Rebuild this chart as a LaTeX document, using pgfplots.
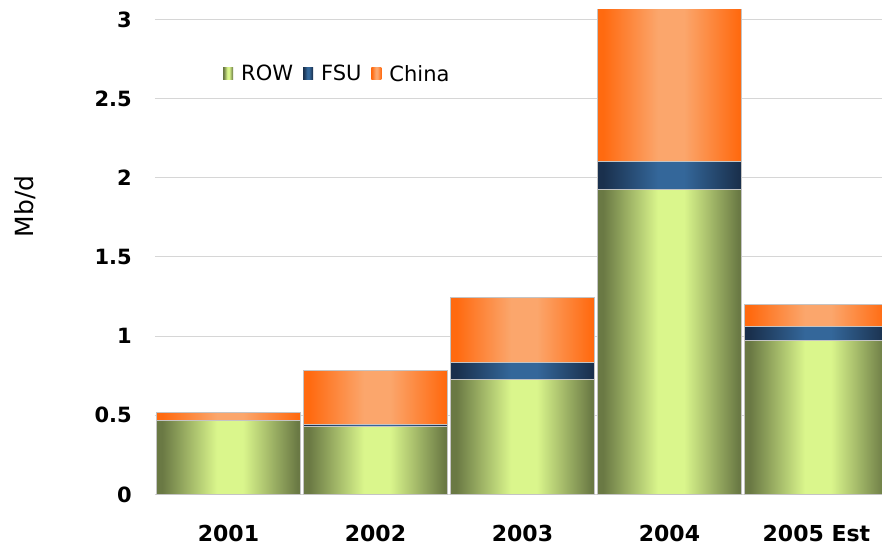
\documentclass[border=0pt]{standalone}
\usepackage{fontspec}
\setmainfont{DejaVu Sans}
\usepackage{pgfplots}
\usepackage{pgfplotstable}
\pgfplotsset{compat=1.18}

\definecolor{rowEdge}{HTML}{6A7944}
\definecolor{rowMid}{HTML}{DAF68C}
\definecolor{fsuEdge}{HTML}{1A304D}
\definecolor{fsuMid}{HTML}{34679A}
\definecolor{chnEdge}{HTML}{FF6A10}
\definecolor{chnMid}{HTML}{FBA66C}
\definecolor{gridgray}{HTML}{D6D6D6}
\definecolor{bordergray}{HTML}{C4C4C4}

% horizontal shadings with a light plateau in the middle of each bar
% (the path spans 25bp..75bp of the 100bp shading)
\pgfdeclarehorizontalshading{rowshade}{100bp}{color(0bp)=(rowEdge); color(27bp)=(rowEdge);
  color(46bp)=(rowMid); color(55bp)=(rowMid); color(74bp)=(rowEdge); color(100bp)=(rowEdge)}
\pgfdeclarehorizontalshading{fsushade}{100bp}{color(0bp)=(fsuEdge); color(27bp)=(fsuEdge);
  color(46bp)=(fsuMid); color(55bp)=(fsuMid); color(74bp)=(fsuEdge); color(100bp)=(fsuEdge)}
\pgfdeclarehorizontalshading{chnshade}{100bp}{color(0bp)=(chnEdge); color(27bp)=(chnEdge);
  color(46bp)=(chnMid); color(55bp)=(chnMid); color(74bp)=(chnEdge); color(100bp)=(chnEdge)}

% Incremental oil demand by region (Mb/d)
\pgfplotstableread{
x  row    fsu    china
0  0.470  0.000  0.050
1  0.428  0.012  0.346
2  0.725  0.108  0.413
3  1.925  0.175  0.970
4  0.975  0.088  0.140
}\demand

\pgfplotsset{
  rowbar/.style={draw=bordergray, line width=1pt, shading=rowshade, shading angle=0},
  fsubar/.style={draw=bordergray, line width=1pt, shading=fsushade, shading angle=0},
  chnbar/.style={draw=bordergray, line width=1pt, shading=chnshade, shading angle=0},
  onebar/.style={ybar, bar width=0.98, bar shift=0pt, forget plot,
    restrict x to domain=#1:#1},
}

\begin{document}
\begin{tikzpicture}
\begin{axis}[
  scale only axis,
  width=727pt, height=484.5pt,
  xmin=-0.5, xmax=4.446,
  ymin=0, ymax=3.06,
  xtick={0,...,4},
  xticklabels={2001,2002,2003,2004,2005 Est},
  ytick={0,0.5,1,1.5,2,2.5,3},
  yticklabel style={/pgf/number format/fixed, inner sep=0pt, anchor=east, xshift=-23pt,
    font=\bfseries\fontsize{21}{21}\selectfont},
  xticklabel style={inner sep=0pt, anchor=north, yshift=-30.5pt,
    font=\bfseries\fontsize{22}{22}\selectfont},
  /pgf/number format/assume math mode=true,
  major tick length=0pt,
  axis line style={draw=none},
  ymajorgrids,
  grid style={draw=gridgray, line width=1pt},
  ylabel={Mb/d},
  ylabel style={at={(axis description cs:0,0.595)}, anchor=center, yshift=130pt,
    font=\fontsize{25}{25}\selectfont},
  legend columns=-1,
  legend style={at={(0.0935,0.868)}, anchor=west, draw=none, fill=none,
    inner sep=0pt, font=\fontsize{21}{21}\selectfont,
    nodes={inner sep=0pt},
    /tikz/every even column/.append style={column sep=10pt},
    /tikz/every odd column/.append style={column sep=8pt}},
  legend image code/.code={%
    \path[#1, draw=none] (0pt,-6pt) rectangle (10pt,6pt);},
]
% stacked segments: cumulative totals drawn back to front
\pgfplotsinvokeforeach{0,...,4}{
  \addplot[chnbar, onebar=#1]
    table[x=x, y expr=\thisrow{row}+\thisrow{fsu}+\thisrow{china}] {\demand};
  \addplot[fsubar, onebar=#1]
    table[x=x, y expr=\thisrow{row}+\thisrow{fsu}] {\demand};
  \addplot[rowbar, onebar=#1]
    table[x=x, y=row] {\demand};
}
\addlegendimage{rowbar}\addlegendentry{ROW}
\addlegendimage{fsubar}\addlegendentry{FSU}
\addlegendimage{chnbar}\addlegendentry{China}
\coordinate (ll) at (rel axis cs:0,0);
\coordinate (ur) at (rel axis cs:1,1);
\end{axis}
\pgfresetboundingbox
\path ([xshift=-155pt,yshift=-52.5pt]ll) rectangle ([yshift=10pt]ur);
\end{tikzpicture}
\end{document}
